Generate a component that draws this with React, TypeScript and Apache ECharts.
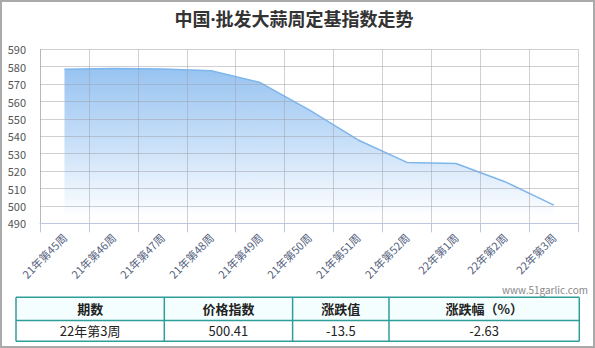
import React, { useEffect, useRef } from "react";
import * as echarts from "echarts";

const titleText = "中国·批发大蒜周定基指数走势";
const categories = [
  "21年第45周", "21年第46周", "21年第47周", "21年第48周", "21年第49周", "21年第50周",
  "21年第51周", "21年第52周", "22年第1周", "22年第2周", "22年第3周",
];
const indexValues = [578.6, 578.9, 578.7, 577.7, 570.9, 555.2, 537.9, 525.0, 524.4, 513.91, 500.41];
const yMin = 490;
const yMax = 590;
const yStep = 10;
const tableHeaders = ["期数", "价格指数", "涨跌值", "涨跌幅（%）"];
const tableRow = ["22年第3周", "500.41", "-13.5", "-2.63"];
const watermark = "www.51garlic.com";

const FONT = "'Noto Sans CJK SC', 'Noto Sans', sans-serif";
const TITLE_FONT = "'Noto Sans', 'Noto Sans CJK SC', sans-serif";

export default function App() {
  const ref = useRef<HTMLDivElement>(null);
  useEffect(() => {
    if (!ref.current) return;
    const chart = echarts.init(ref.current, null, { renderer: "svg" });

    const colX = [16, 164.3, 292.6, 389, 579.3];
    const rowY = [297.3, 320.5, 341.3];
    const tableEls: any[] = [];
    tableEls.push({
      type: "rect",
      shape: { x: colX[0], y: rowY[0], width: colX[4] - colX[0], height: rowY[1] - rowY[0] },
      style: { fill: "#f5fefe" },
      z: 1,
    });
    for (const y of rowY) {
      tableEls.push({
        type: "line",
        shape: { x1: colX[0], y1: y, x2: colX[4], y2: y },
        style: { stroke: "#2f9e9b", lineWidth: 1.5 },
        z: 2,
      });
    }
    for (const x of colX) {
      tableEls.push({
        type: "line",
        shape: { x1: x, y1: rowY[0], x2: x, y2: rowY[2] },
        style: { stroke: "#2f9e9b", lineWidth: 1.5 },
        z: 2,
      });
    }
    tableHeaders.forEach((h, i) => {
      tableEls.push({
        type: "text",
        x: (colX[i] + colX[i + 1]) / 2,
        y: (rowY[0] + rowY[1]) / 2,
        style: {
          text: h, fill: "#222", font: `bold 13px ${FONT}`,
          align: "center", verticalAlign: "middle",
        },
        z: 3,
      });
    });
    tableRow.forEach((v, i) => {
      tableEls.push({
        type: "text",
        x: (colX[i] + colX[i + 1]) / 2,
        y: (rowY[1] + rowY[2]) / 2,
        style: {
          text: v, fill: "#222", font: `13px ${FONT}`,
          align: "center", verticalAlign: "middle",
        },
        z: 3,
      });
    });

    chart.setOption({
      animation: false,
      backgroundColor: "#fff",
      grid: { left: 40, top: 49.3, right: 16.7, bottom: 124.7, containLabel: false },
      xAxis: {
        type: "category",
        data: categories,
        boundaryGap: true,
        z: 3,
        axisLine: { show: true, lineStyle: { color: "#bcc7de", width: 1 } },
        axisTick: { show: true, length: 9, lineStyle: { color: "#bcc7de" } },
        axisLabel: {
          rotate: 45, interval: 0, margin: 12, fontSize: 11,
          color: "#55627e", fontFamily: FONT,
        },
        splitLine: { show: true, interval: 0, lineStyle: { color: "rgba(160,160,170,0.5)", width: 1 } },
      },
      yAxis: {
        type: "value",
        min: yMin,
        max: yMax,
        interval: yStep,
        z: 3,
        axisLine: { show: true, lineStyle: { color: "rgba(160,160,170,0.5)" } },
        axisTick: { show: false },
        axisLabel: { margin: 14, fontSize: 11, color: "#555", fontFamily: FONT },
        splitLine: { show: true, lineStyle: { color: "rgba(160,160,170,0.5)", width: 1 } },
      },
      series: [
        {
          type: "line",
          data: indexValues,
          symbol: "none",
          smooth: false,
          z: 2,
          lineStyle: { color: "#7db6ec", width: 1.5 },
          areaStyle: {
            origin: 495,
            color: new echarts.graphic.LinearGradient(0, 0, 0, 1, [
              { offset: 0, color: "rgb(108,170,235)" },
              { offset: 0.5, color: "rgb(175,209,245)" },
              { offset: 1, color: "rgb(252,253,255)" },
            ]),
          },
        },
      ],
      graphic: [
        {
          type: "rect",
          shape: { x: 1, y: 1, width: 593, height: 346 },
          style: { fill: "none", stroke: "#aaaaaa", lineWidth: 2 },
          z: 10,
        },
        {
          type: "text",
          x: 294,
          y: 19,
          style: {
            text: titleText, fill: "#333", font: `bold 18px ${TITLE_FONT}`,
            align: "center", verticalAlign: "middle",
          },
        },
        {
          type: "text",
          x: 588,
          y: 289.5,
          style: {
            text: watermark, fill: "#888", font: `10px ${FONT}`,
            align: "right", verticalAlign: "middle",
          },
        },
        ...tableEls,
      ],
    });
    return () => chart.dispose();
  }, []);
  return (
    <div
      ref={ref}
      style={{ position: "absolute", left: 0, top: 0, width: 595, height: 348 }}
    />
  );
}
